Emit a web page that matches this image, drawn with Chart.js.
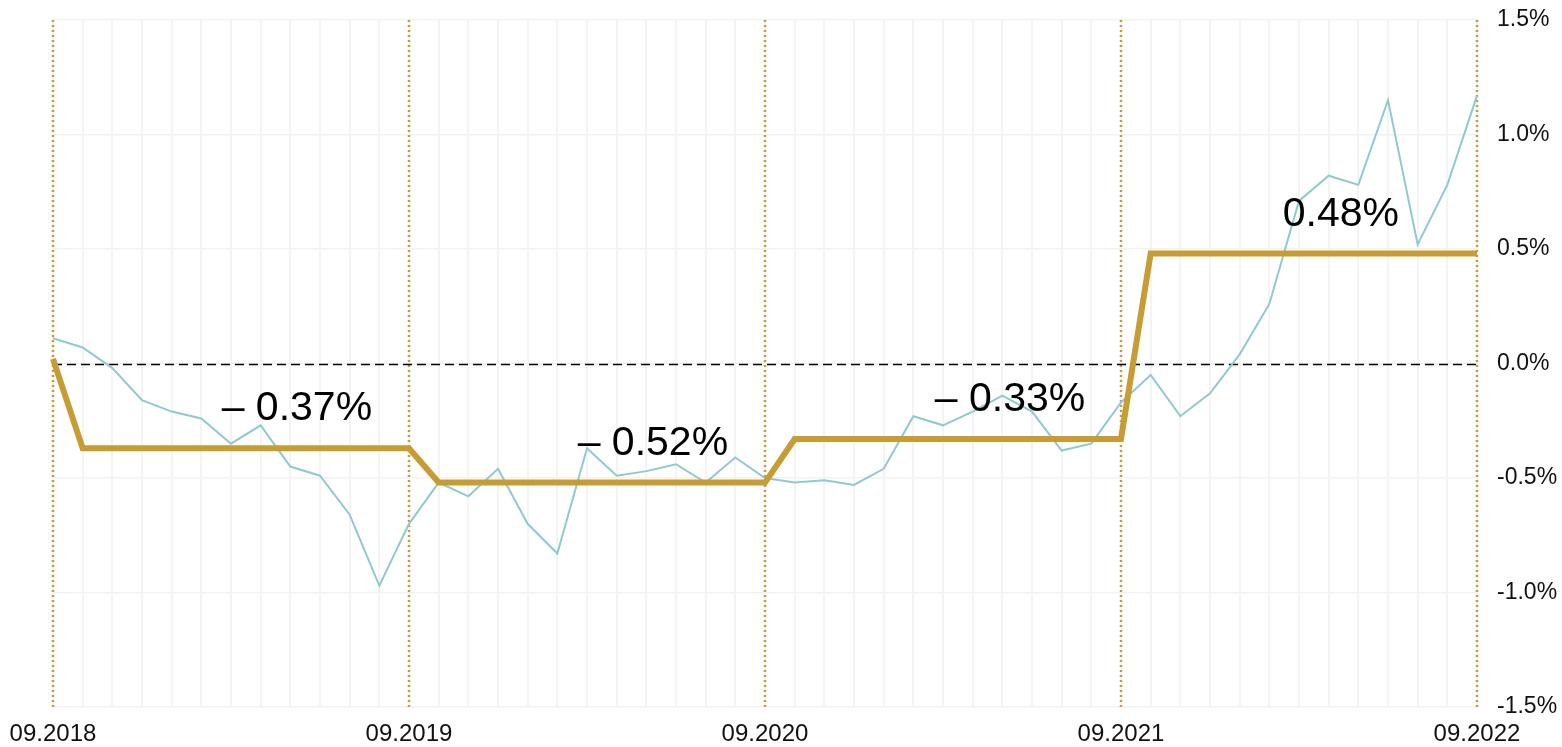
<!DOCTYPE html>
<html>
<head>
<meta charset="utf-8">
<script src="https://cdn.jsdelivr.net/npm/chart.js@4/dist/chart.umd.min.js"></script>
<style>
    html, body { margin: 0; padding: 0; background: #fff; }
    #wrap { width: 1562px; height: 747px; }
</style>
</head>
<body>
<div id="wrap"><canvas id="rateChart"></canvas></div>
<script>
// monthly categories, 09.2018 .. 09.2022
const months = [
    '09.2018','10.2018','11.2018','12.2018','01.2019','02.2019','03.2019','04.2019','05.2019','06.2019','07.2019','08.2019',
    '09.2019','10.2019','11.2019','12.2019','01.2020','02.2020','03.2020','04.2020','05.2020','06.2020','07.2020','08.2020',
    '09.2020','10.2020','11.2020','12.2020','01.2021','02.2021','03.2021','04.2021','05.2021','06.2021','07.2021','08.2021',
    '09.2021','10.2021','11.2021','12.2021','01.2022','02.2022','03.2022','04.2022','05.2022','06.2022','07.2022','08.2022',
    '09.2022'
];
const yearTicks = ['09.2018', '09.2019', '09.2020', '09.2021', '09.2022'];

// monthly rate (thin teal line)
const monthlyValues = [
    0.11, 0.07, -0.02, -0.16, -0.21, -0.24, -0.35, -0.27, -0.45, -0.49, -0.66, -0.97,
    -0.70, -0.52, -0.58, -0.46, -0.70, -0.83, -0.37, -0.49, -0.47, -0.44, -0.52, -0.41,
    -0.50, -0.52, -0.51, -0.53, -0.46, -0.23, -0.27, -0.21, -0.14, -0.21, -0.38, -0.35,
    -0.17, -0.05, -0.23, -0.13, 0.04, 0.26, 0.71, 0.82, 0.78, 1.15, 0.52, 0.78,
    1.17
];

// yearly average (thick gold step line)
const yearlyValues = [
    0.02, -0.37, -0.37, -0.37, -0.37, -0.37, -0.37, -0.37, -0.37, -0.37, -0.37, -0.37,
    -0.37, -0.52, -0.52, -0.52, -0.52, -0.52, -0.52, -0.52, -0.52, -0.52, -0.52, -0.52,
    -0.52, -0.33, -0.33, -0.33, -0.33, -0.33, -0.33, -0.33, -0.33, -0.33, -0.33, -0.33,
    -0.33, 0.48, 0.48, 0.48, 0.48, 0.48, 0.48, 0.48, 0.48, 0.48, 0.48, 0.48,
    0.48
];
const yearlyLabels = ['\u2013 0.37%', '\u2013 0.52%', '\u2013 0.33%', '0.48%'];
const yearlyLabelValues = [-0.37, -0.52, -0.33, 0.48];

const gold = '#c79c33';
const teal = '#8ecad0';
const fontFamily = '"Liberation Sans", Arial, sans-serif';

// yearly dotted lines + dashed zero line, drawn under the data
const guideLines = {
    id: 'guideLines',
    beforeDatasetsDraw(chart) {
        const {ctx, chartArea, scales: {x, y}} = chart;
        ctx.save();
        ctx.strokeStyle = gold;
        ctx.lineWidth = 2.5;
        ctx.setLineDash([2, 3]);
        yearTicks.forEach(label => {
            const px = Math.round(x.getPixelForValue(months.indexOf(label)));
            ctx.beginPath();
            ctx.moveTo(px, chartArea.top);
            ctx.lineTo(px, chartArea.bottom);
            ctx.stroke();
        });
        const zeroY = Math.round(y.getPixelForValue(0)) + 0.5;
        ctx.strokeStyle = '#000';
        ctx.lineWidth = 1.5;
        ctx.setLineDash([9, 5]);
        ctx.beginPath();
        ctx.moveTo(chartArea.left, zeroY);
        ctx.lineTo(chartArea.right, zeroY);
        ctx.stroke();
        ctx.restore();
    }
};

// yearly value texts above the gold line
const yearLabels = {
    id: 'yearLabels',
    afterDatasetsDraw(chart, args, opts) {
        const {ctx, scales: {x, y}} = chart;
        ctx.save();
        ctx.font = '41px ' + fontFamily;
        ctx.fillStyle = '#000';
        ctx.textAlign = 'center';
        ctx.textBaseline = 'alphabetic';
        yearlyLabels.forEach((text, i) => {
            const px = x.getPixelForValue(opts.anchors[i]);
            const py = y.getPixelForValue(yearlyLabelValues[i]) - opts.lift;
            ctx.fillText(text, px, py);
        });
        ctx.restore();
    }
};

const ctx = document.getElementById('rateChart').getContext('2d');
const rateChart = new Chart(ctx, {
    type: 'line',
    data: {
        labels: months,
        datasets: [{
            data: yearlyValues,
            borderColor: gold,
            borderWidth: 6,
            pointRadius: 0,
            tension: 0,
            order: 1
        }, {
            data: monthlyValues,
            borderColor: teal,
            borderWidth: 2,
            pointRadius: 0,
            tension: 0,
            order: 2
        }]
    },
    options: {
        responsive: true,
        maintainAspectRatio: false,
        animation: false,
        layout: {
            padding: {left: 53, top: 20, right: 0, bottom: 0}
        },
        scales: {
            x: {
                type: 'category',
                offset: false,
                grid: {
                    color: '#f4f4f4',
                    lineWidth: 2,
                    drawTicks: false
                },
                border: {display: false},
                ticks: {
                    autoSkip: false,
                    maxRotation: 0,
                    padding: 13,
                    color: '#111',
                    font: {family: fontFamily, size: 24},
                    callback: function(value) {
                        const label = this.getLabelForValue(value);
                        return yearTicks.includes(label) ? label : '';
                    }
                },
                afterFit: (scale) => {
                    scale.height = 40;
                    scale.paddingLeft = 0;
                    scale.paddingRight = 0;
                }
            },
            y: {
                position: 'right',
                min: -1.5,
                max: 1.5,
                grid: {
                    color: '#f2f2f2',
                    lineWidth: 1.5,
                    drawTicks: false
                },
                border: {display: false},
                ticks: {
                    stepSize: 0.5,
                    padding: 20,
                    color: '#111',
                    font: {family: fontFamily, size: 23},
                    callback: (v) => v.toFixed(1) + '%'
                },
                afterFit: (scale) => {
                    scale.width = 85;
                    scale.paddingTop = 0;
                    scale.paddingBottom = 0;
                }
            }
        },
        plugins: {
            legend: {display: false},
            tooltip: {enabled: false},
            yearLabels: {
                anchors: [8.22, 20.22, 32.26, 43.41],
                lift: 28
            }
        }
    },
    plugins: [guideLines, yearLabels]
});
</script>
</body>
</html>
